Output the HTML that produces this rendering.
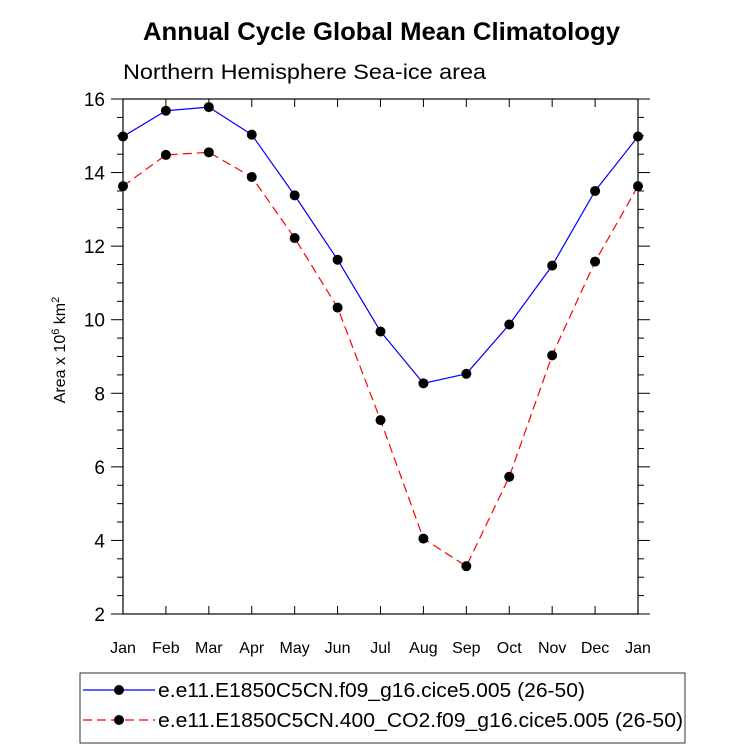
<!DOCTYPE html>
<html><head><meta charset="utf-8"><style>body{margin:0;background:#fff}svg{display:block;font-family:"Liberation Sans",sans-serif}</style></head>
<body>
<svg id="c" width="733" height="748"></svg>
<script>
const months=["Jan","Feb","Mar","Apr","May","Jun","Jul","Aug","Sep","Oct","Nov","Dec","Jan"];
const blueVals=[14.98,15.68,15.78,15.03,13.38,11.63,9.68,8.27,8.53,9.87,11.47,13.5,14.98];
const redVals=[13.63,14.48,14.55,13.88,12.22,10.33,7.27,4.05,3.3,5.73,9.03,11.58,13.63];
const yTicks=[2,4,6,8,10,12,14,16];
const seriesNames=["e.e11.E1850C5CN.f09_g16.cice5.005 (26-50)","e.e11.E1850C5CN.400_CO2.f09_g16.cice5.005 (26-50)"];
const L=123,R=638,T=99,B=614,yMin=2,yMax=16;
const xs=i=>L+(R-L)*i/(months.length-1);
const ys=v=>B-(v-yMin)/(yMax-yMin)*(B-T);
const svg=document.getElementById('c');
const NS="http://www.w3.org/2000/svg";
function el(t,a,txt){const e=document.createElementNS(NS,t);for(const k in a)e.setAttribute(k,a[k]);if(txt!=null)e.textContent=txt;svg.appendChild(e);return e;}
let e;
e=el('text',{x:143,y:40,'font-size':25,'font-weight':'bold',textLength:477,lengthAdjust:'spacingAndGlyphs'},'Annual Cycle Global Mean Climatology');

e=el('text',{x:123,y:79,'font-size':21,textLength:363,lengthAdjust:'spacingAndGlyphs'},'Northern Hemisphere Sea-ice area');

e=el('rect',{x:L,y:T,width:R-L,height:B-T,fill:'none',stroke:'#000','stroke-width':1.2});

for(let v=yMin;v<=yMax;v+=0.5){const y=ys(v);const maj=v%2===0;const len=maj?12:6;
 e=el('line',{x1:L-len,x2:L,y1:y,y2:y,stroke:'#000'});
 e=el('line',{x1:R,x2:R+len,y1:y,y2:y,stroke:'#000'});}
yTicks.forEach(v=>{e=el('text',{x:L-18,y:ys(v)+7,'text-anchor':'end','font-size':19},v);});
months.forEach((m,i)=>{const x=xs(i);
 e=el('line',{x1:x,x2:x,y1:B,y2:B-8,stroke:'#000'});
 e=el('line',{x1:x,x2:x,y1:T,y2:T+8,stroke:'#000'});
 e=el('text',{x:x,y:653,'text-anchor':'middle','font-size':16},m);});
e=el('text',{transform:'translate(65,350) rotate(-90)','text-anchor':'middle','font-size':16});
e.innerHTML='Area x 10<tspan dy="-6" font-size="11">6</tspan><tspan dy="6"> km</tspan><tspan dy="-6" font-size="11">2</tspan>';

function series(vals,color,dash,name){
 e=el('polyline',{points:vals.map((v,i)=>xs(i)+','+ys(v)).join(' '),fill:'none',stroke:color,'stroke-width':1.2,'stroke-dasharray':dash});
 
 vals.forEach((v,i)=>{e=el('circle',{cx:xs(i),cy:ys(v),r:5,fill:'#000'});});}
series(redVals,'#f00','9,5','co2-series');
series(blueVals,'#00f','none','control-series');
e=el('rect',{x:80,y:673,width:605,height:70,fill:'#fff',stroke:'#000','stroke-width':0.8});

const legLens=[427,525];
[['#00f','none'],['#f00','9,5']].forEach((s,k)=>{const y=690+k*30;
 e=el('line',{x1:83,x2:155,y1:y,y2:y,stroke:s[0],'stroke-width':1.2,'stroke-dasharray':s[1]});
 e=el('circle',{cx:119,cy:y,r:5,fill:'#000'});
 e=el('text',{x:158,y:y+7,'font-size':20,textLength:legLens[k],lengthAdjust:'spacingAndGlyphs'},seriesNames[k]);});
</script>
</body></html>
